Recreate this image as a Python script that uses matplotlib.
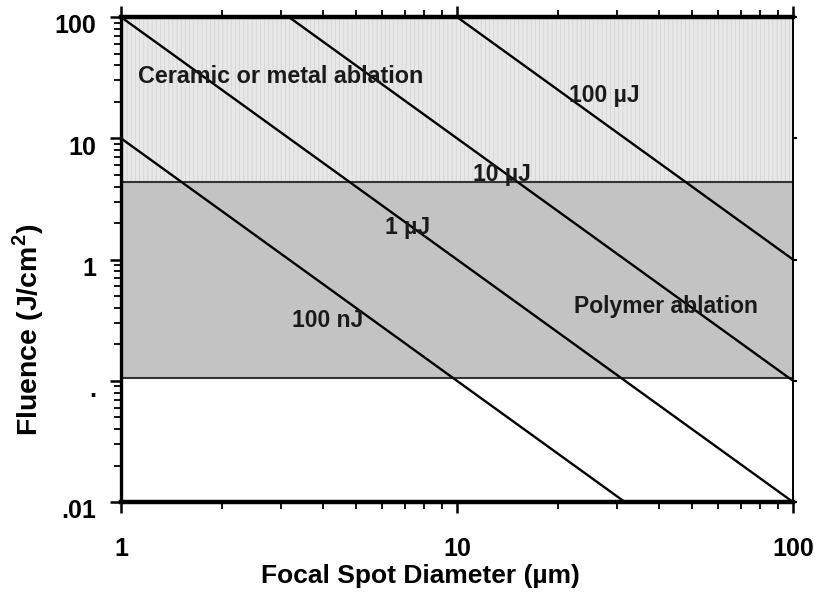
import matplotlib
matplotlib.use("Agg")
import matplotlib.pyplot as plt
from matplotlib.ticker import FixedLocator, FixedFormatter, LogLocator, NullFormatter, NullLocator
from matplotlib.transforms import ScaledTranslation

plt.rcParams["font.family"] = ["Liberation Sans", "DejaVu Sans"]
plt.rcParams["mathtext.fontset"] = "custom"
plt.rcParams["mathtext.bf"] = "Liberation Sans:bold"
plt.rcParams["mathtext.rm"] = "Liberation Sans"
plt.rcParams["hatch.color"] = "#d4d4d4"
plt.rcParams["hatch.linewidth"] = 0.6

# ── data ─────────────────────────────────────────────────────────────────────
line_labels = ["100 nJ", "1 µJ", "10 µJ", "100 µJ"]
line_x0 = [1, 1, 3.16, 10]
line_y0 = [10, 100, 100, 100]
line_x1 = [31.6, 100, 100, 100]
line_y1 = [0.01, 0.01, 0.1, 1]

# label positions (data coords)
label_x = [4.13, 7.15, 13.6, 27.4]
label_y = [0.317, 1.85, 4.98, 22.7]

# ablation regions (fluence ranges)
ceramic_range = [4.38, 100]
polymer_range = [0.105, 4.38]

yticks = [0.01, 0.1, 1, 10, 100]
ytick_labels = [".01", ".", "1", "10", "100"]
xticks = [1, 10, 100]
xtick_labels = ["1", "10", "100"]

# ── figure ───────────────────────────────────────────────────────────────────
fig = plt.figure(figsize=(8.24, 6.10), dpi=100)
ax = fig.add_axes([0.1468, 0.177, 0.8156, 0.7951])
ax.set_xscale("log")
ax.set_yscale("log")
ax.set_xlim(1, 100)
ax.set_ylim(0.01, 100)

ax.axhspan(*ceramic_range, facecolor="#e8e8e8", edgecolor="#d4d4d4",
           lw=0, hatch="||||", zorder=1)
ax.axhspan(*polymer_range, facecolor="#c3c3c3", edgecolor="none", zorder=1)
for yb in [ceramic_range[0], polymer_range[0]]:
    ax.axhline(yb, color="#333333", lw=1.5, zorder=2)

for x0, y0, x1, y1 in zip(line_x0, line_y0, line_x1, line_y1):
    ax.plot([x0, x1], [y0, y1], color="black", lw=1.7, zorder=3,
            solid_capstyle="butt")

for lab, lx, ly in zip(line_labels, label_x, label_y):
    ax.text(lx, ly, lab, ha="center", va="center", fontsize=16.5,
            fontweight="bold", color="#1a1a1a", zorder=4)

ax.text(1.12, 32.6, "Ceramic or metal ablation", ha="left", va="center",
        fontsize=16.8, fontweight="bold", color="#1a1a1a", zorder=4)
ax.text(41.9, 0.406, "Polymer ablation", ha="center", va="center",
        fontsize=16.5, fontweight="bold", color="#1a1a1a", zorder=4)

# ── axes styling ─────────────────────────────────────────────────────────────
ax.yaxis.set_major_locator(FixedLocator(yticks))
ax.yaxis.set_major_formatter(FixedFormatter(ytick_labels))
ax.xaxis.set_major_locator(FixedLocator(xticks))
ax.xaxis.set_major_formatter(FixedFormatter(xtick_labels))
ax.xaxis.set_minor_locator(LogLocator(base=10, subs=range(2, 10)))
ax.yaxis.set_minor_locator(LogLocator(base=10, subs=range(2, 10)))
ax.xaxis.set_minor_formatter(NullFormatter())
ax.yaxis.set_minor_formatter(NullFormatter())

ax.tick_params(which="both", direction="out", top=True, right=False,
               color="black")
ax.tick_params(which="major", length=8, width=1.8, labelsize=18)
ax.tick_params(axis="x", which="major", pad=17)
ax.tick_params(axis="y", which="major", pad=10)
ax.tick_params(which="minor", length=5, width=1.3)
shift = ScaledTranslation(0, -5 / 72, fig.dpi_scale_trans)
for t in ax.get_yticklabels():
    t.set_transform(t.get_transform() + shift)
for t in ax.get_xticklabels() + ax.get_yticklabels():
    t.set_fontweight("bold")

# short major ticks on the right side only
ax_r = ax.twinx()
ax_r.set_yscale("log")
ax_r.set_ylim(ax.get_ylim())
ax_r.yaxis.set_major_locator(FixedLocator(yticks))
ax_r.yaxis.set_minor_locator(NullLocator())
ax_r.yaxis.set_major_formatter(NullFormatter())
ax_r.tick_params(axis="y", direction="out", length=3, width=1.5)
for s in ax_r.spines.values():
    s.set_visible(False)

ax.spines["top"].set_linewidth(3.2)
ax.spines["bottom"].set_linewidth(3.2)
ax.spines["left"].set_linewidth(2.4)
ax.spines["right"].set_linewidth(1.4)
for s in ax.spines.values():
    s.set_zorder(5)

ax.set_xlabel("Focal Spot Diameter (µm)", fontsize=19, fontweight="bold")
ax.xaxis.set_label_coords(0.446, -0.128)
ax.set_ylabel("Fluence (J/cm$^{\\mathbf{2}}$)", fontsize=20.5, fontweight="bold")
ax.yaxis.set_label_coords(-0.112, 0.355)

fig.savefig("out.png", dpi=100)
